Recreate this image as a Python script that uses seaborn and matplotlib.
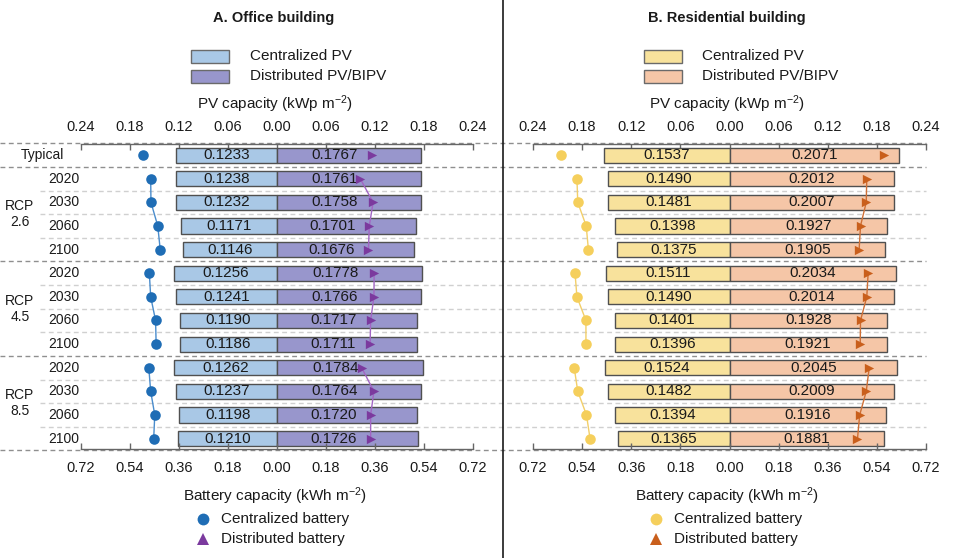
import numpy as np
import pandas as pd
import matplotlib
matplotlib.use("Agg")
import matplotlib.pyplot as plt
import matplotlib.transforms as mtrans
from matplotlib.patches import Rectangle
from matplotlib.lines import Line2D
import seaborn as sns

# ---------------- data ----------------
row_labels = ["Typical", "2020", "2030", "2060", "2100", "2020", "2030", "2060", "2100",
              "2020", "2030", "2060", "2100"]
row_groups = ["Typical", "RCP 2.6", "RCP 2.6", "RCP 2.6", "RCP 2.6", "RCP 4.5", "RCP 4.5",
              "RCP 4.5", "RCP 4.5", "RCP 8.5", "RCP 8.5", "RCP 8.5", "RCP 8.5"]
group_names = ["RCP\n2.6", "RCP\n4.5", "RCP\n8.5"]

pv_c_off = [0.1233, 0.1238, 0.1232, 0.1171, 0.1146, 0.1256, 0.1241, 0.1190, 0.1186,
            0.1262, 0.1237, 0.1198, 0.1210]
pv_d_off = [0.1767, 0.1761, 0.1758, 0.1701, 0.1676, 0.1778, 0.1766, 0.1717, 0.1711,
            0.1784, 0.1764, 0.1720, 0.1726]
bat_c_off = [0.493, 0.464, 0.463, 0.438, 0.429, 0.469, 0.464, 0.446, 0.444,
             0.471, 0.464, 0.449, 0.453]
bat_d_off = [0.350, 0.306, 0.353, 0.339, 0.336, 0.357, 0.356, 0.344, 0.342,
             0.311, 0.356, 0.344, 0.344]

pv_c_res = [0.1537, 0.1490, 0.1481, 0.1398, 0.1375, 0.1511, 0.1490, 0.1401, 0.1396,
            0.1524, 0.1482, 0.1394, 0.1365]
pv_d_res = [0.2071, 0.2012, 0.2007, 0.1927, 0.1905, 0.2034, 0.2014, 0.1928, 0.1921,
            0.2045, 0.2009, 0.1916, 0.1881]
bat_c_res = [0.616, 0.559, 0.556, 0.525, 0.517, 0.566, 0.559, 0.526, 0.526,
             0.569, 0.556, 0.524, 0.511]
bat_d_res = [0.566, 0.503, 0.501, 0.480, 0.475, 0.508, 0.503, 0.480, 0.479,
             0.512, 0.501, 0.477, 0.469]

pv_ticks = [-0.24, -0.18, -0.12, -0.06, 0.0, 0.06, 0.12, 0.18, 0.24]
bat_ticks = [-0.72, -0.54, -0.36, -0.18, 0.0, 0.18, 0.36, 0.54, 0.72]

titles = ["A. Office building", "B. Residential building"]
legend_pv = ["Centralized PV", "Distributed PV/BIPV"]
legend_bat = ["Centralized battery", "Distributed battery"]

# ---------------- style ----------------
sns.set_style("white")
plt.rcParams["font.family"] = ["Liberation Sans", "DejaVu Sans"]
plt.rcParams["mathtext.default"] = "regular"

W, H = 960, 558
fig = plt.figure(figsize=(W / 100, H / 100), dpi=100)

panels = [
    dict(x0=81, x1=473, pvc=pv_c_off, pvd=pv_d_off, bc=bat_c_off, bd=bat_d_off,
         col_c="#a9c8e6", col_d="#9896cc", mk_c="#1f6db5", mk_d="#7b3a9e",
         ln_c="#4a8ccc", ln_d="#a266c4", dlab=0.40, title=titles[0]),
    dict(x0=533, x1=926, pvc=pv_c_res, pvd=pv_d_res, bc=bat_c_res, bd=bat_d_res,
         col_c="#f8e29c", col_d="#f5c6a7", mk_c="#f5cf5c", mk_d="#c95f1c",
         ln_c="#f2cf6a", ln_d="#cf7036", dlab=0.50, title=titles[1]),
]

top_px, bot_px = 144, 449
n = len(row_labels)
order = [str(i) for i in range(n)]
axes = []
for p in panels:
    ax = fig.add_axes([p["x0"] / W, 1 - bot_px / H, (p["x1"] - p["x0"]) / W,
                       (bot_px - top_px) / H])
    ax.patch.set_visible(False)
    df = pd.DataFrame({"row": order, "c": [-v for v in p["pvc"]], "d": p["pvd"]})
    sns.barplot(data=df, x="c", y="row", order=order, orient="h", color=p["col_c"],
                saturation=1, width=0.64, edgecolor="#505050", linewidth=1.0,
                errorbar=None, ax=ax)
    sns.barplot(data=df, x="d", y="row", order=order, orient="h", color=p["col_d"],
                saturation=1, width=0.64, edgecolor="#505050", linewidth=1.0,
                errorbar=None, ax=ax)
    ax.set_xlim(-0.24, 0.24)
    ax.set_ylim(n - 0.56, -0.47)
    ax.set_xlabel("")
    ax.set_ylabel("")
    ax.set_yticks([])

    # value labels
    for i in range(n):
        ax.text(-p["pvc"][i] / 2, i, f"{p['pvc'][i]:.4f}", ha="center", va="center",
                fontsize=11, color="#1a1a1a", zorder=5)
        ax.text(p["pvd"][i] * p["dlab"], i, f"{p['pvd'][i]:.4f}", ha="center",
                va="center", fontsize=11, color="#1a1a1a", zorder=5)

    # battery axis
    ax2 = ax.twiny()
    ax2.patch.set_visible(False)
    ax2.set_xlim(-0.72, 0.72)
    ax2.xaxis.tick_bottom()
    ax2.xaxis.set_label_position("bottom")
    ax2.set_xticks(bat_ticks)
    ax2.set_xticklabels([f"{abs(t):.2f}" for t in bat_ticks])
    ax2.tick_params(axis="x", which="both", direction="in", length=4, width=1,
                    color="#666666", pad=9, labelsize=10.5, labelcolor="#1a1a1a",
                    top=False, labeltop=False, bottom=True, labelbottom=True)
    for s in ["left", "right", "top"]:
        ax2.spines[s].set_visible(False)
    ax2.spines["bottom"].set_visible(True)
    ax2.spines["bottom"].set_color("#666666")
    ax2.spines["bottom"].set_linewidth(1)

    # PV axis on top (set after twiny, which resets it)
    ax.set_xticks(pv_ticks)
    ax.set_xticklabels([f"{abs(t):.2f}" for t in pv_ticks])
    ax.tick_params(axis="x", which="both", direction="in", length=4, width=1,
                   color="#666666", pad=7, labelsize=10.5, labelcolor="#1a1a1a",
                   top=True, labeltop=True, bottom=False, labelbottom=False)
    for s in ["left", "right", "bottom"]:
        ax.spines[s].set_visible(False)
    ax.spines["top"].set_visible(True)
    ax.spines["top"].set_color("#666666")
    ax.spines["top"].set_linewidth(1)

    bdf = pd.DataFrame({"pos": np.arange(n), "c": [-v for v in p["bc"]], "d": p["bd"],
                        "grp": row_groups})
    for g in ["Typical", "RCP 2.6", "RCP 4.5", "RCP 8.5"]:
        sub = bdf[bdf["grp"] == g]
        sns.lineplot(data=sub, x="c", y="pos", sort=False, estimator=None, orient="y",
                     color=p["ln_c"], lw=1.0, ax=ax2, zorder=3)
        sns.lineplot(data=sub, x="d", y="pos", sort=False, estimator=None, orient="y",
                     color=p["ln_d"], lw=1.0, ax=ax2, zorder=3)
    sns.scatterplot(data=bdf, x="c", y="pos", color=p["mk_c"], marker="o", s=58,
                    linewidth=0, ax=ax2, zorder=4)
    sns.scatterplot(data=bdf, x="d", y="pos", color=p["mk_d"], marker=">", s=45,
                    linewidth=0, ax=ax2, zorder=4)
    ax2.set_ylim(n - 0.56, -0.47)
    ax2.set_xlabel("")
    ax2.set_ylabel("")
    ax2.set_yticks([])
    axes.append(ax)

    cx = (p["x0"] + p["x1"]) / 2
    fig.text((cx - 3) / W, 1 - 18 / H, p["title"], ha="center", va="center",
             fontsize=10.5, fontweight="bold", color="#1a1a1a")
    fig.text((cx - 2) / W, 1 - 104 / H, r"PV capacity (kWp m$^{-2}$)", ha="center",
             va="center", fontsize=11, color="#1a1a1a")
    fig.text((cx - 2) / W, 1 - 496 / H, r"Battery capacity (kWh m$^{-2}$)", ha="center",
             va="center", fontsize=11, color="#1a1a1a")
    # PV legend
    for k, (lab, col) in enumerate(zip(legend_pv, [p["col_c"], p["col_d"]])):
        yc = 56.5 + 20 * k
        fig.add_artist(Rectangle(((cx - 86) / W, 1 - (yc + 6.5) / H), 38 / W, 13 / H,
                                 facecolor=col, edgecolor="#6a6a6a", lw=1,
                                 transform=fig.transFigure))
        fig.text((cx - 27) / W, 1 - (yc - 0.5) / H, lab, ha="left", va="center",
                 fontsize=11, color="#1a1a1a")
    # battery legend
    for k, (lab, col, mk, ms) in enumerate(zip(legend_bat, [p["mk_c"], p["mk_d"]],
                                               ["o", "^"], [8.5, 8])):
        yc = 519 + 20 * k
        fig.add_artist(Line2D([(cx - 74) / W], [1 - yc / H], marker=mk, ms=ms,
                              color=col, mew=0, lw=0, transform=fig.transFigure))
        fig.text((cx - 56) / W, 1 - yc / H, lab, ha="left", va="center",
                 fontsize=11, color="#1a1a1a")

# ---------------- separators & row labels ----------------
ax = axes[0]
tr = mtrans.blended_transform_factory(fig.transFigure, ax.transData)
for yb in [-0.5, 0.5, 4.5, 8.5, 12.5]:
    ax.plot([0, 926 / W], [yb, yb], transform=tr, clip_on=False, color="#8f8f8f",
            lw=1.0, dashes=(3.5, 2.5), zorder=0.5)
for yb in [1.5, 2.5, 3.5, 5.5, 6.5, 7.5, 9.5, 10.5, 11.5]:
    ax.plot([40 / W, 926 / W], [yb, yb], transform=tr, clip_on=False, color="#d0d0d0",
            lw=1.0, dashes=(3.5, 2.5), zorder=0.5)

ax.text(42 / W, 0, row_labels[0], transform=tr, ha="center", va="center", fontsize=10,
        color="#1a1a1a")
for i in range(1, n):
    ax.text(64 / W, i, row_labels[i], transform=tr, ha="center", va="center",
            fontsize=10, color="#1a1a1a")
for gi, gname in enumerate(group_names):
    ax.text(20 / W, 2.5 + 4 * gi, gname, transform=tr, ha="center", va="center",
            fontsize=10, color="#1a1a1a", linespacing=1.2)

fig.add_artist(Line2D([503 / W, 503 / W], [0, 1], color="#1a1a1a", lw=1.2,
                      transform=fig.transFigure))

fig.savefig("out.png", dpi=100)
